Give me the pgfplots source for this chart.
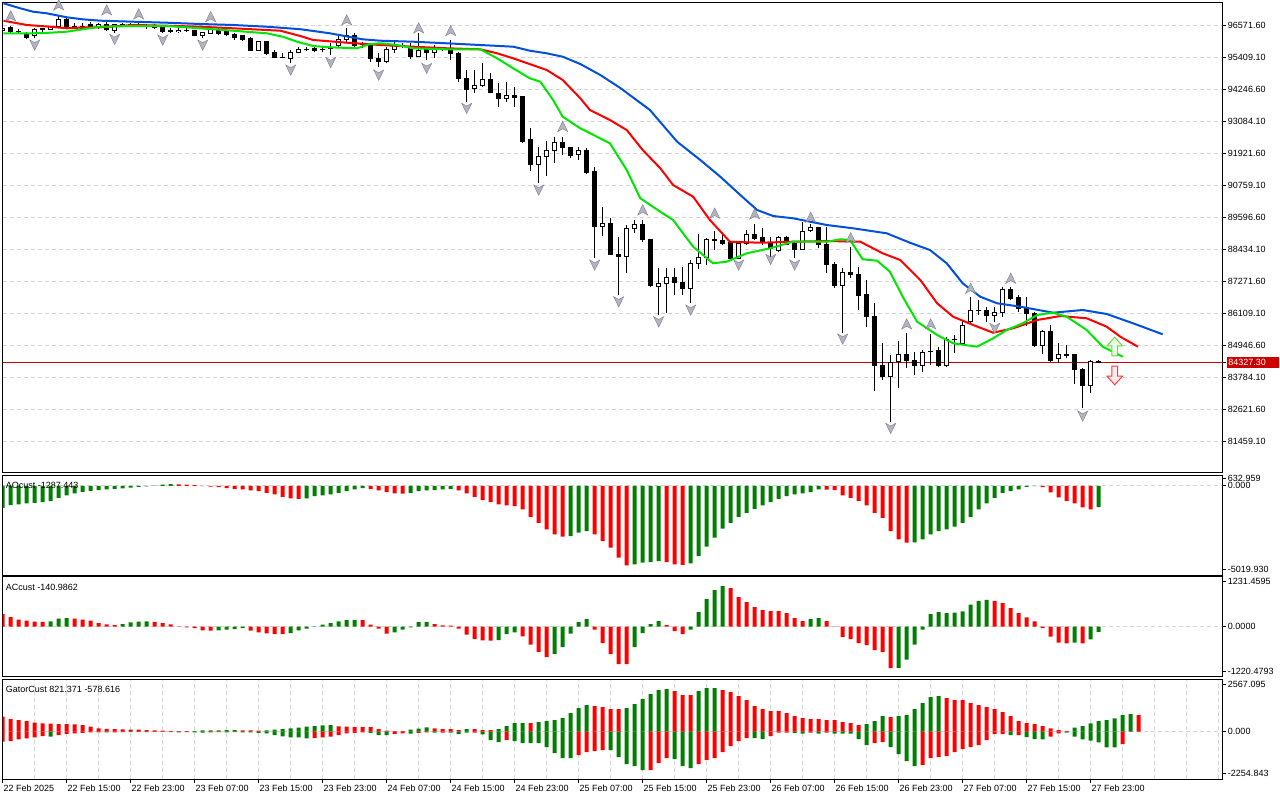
\documentclass[border=0pt]{standalone}
\usepackage{pgfplots}
\pgfplotsset{compat=1.18}
\usepackage{pgfplotstable}
\usepackage{fontspec}
\setmainfont{Liberation Sans}
\definecolor{mtgreen}{RGB}{0,128,0}
\definecolor{mtred}{RGB}{255,0,0}
\definecolor{jaw}{RGB}{0,80,220}
\definecolor{teeth}{RGB}{255,0,0}
\definecolor{lips}{RGB}{0,230,0}
\definecolor{gridc}{RGB}{212,212,212}
\definecolor{pline}{RGB}{204,0,0}
\definecolor{fracfill}{RGB}{178,180,192}
\definecolor{fracdraw}{RGB}{125,125,140}
\newcommand\mtf{\fontsize{6.75pt}{8pt}\selectfont}
\pgfdeclareplotmark{fup}{%
\pgfpathmoveto{\pgfqpoint{0pt}{4pt}}\pgfpathlineto{\pgfqpoint{3.8pt}{-3.8pt}}%
\pgfpathlineto{\pgfqpoint{0pt}{-1.7pt}}\pgfpathlineto{\pgfqpoint{-3.8pt}{-3.8pt}}%
\pgfpathclose\pgfusepathqfillstroke}
\pgfdeclareplotmark{fdown}{%
\pgfpathmoveto{\pgfqpoint{0pt}{-4pt}}\pgfpathlineto{\pgfqpoint{3.8pt}{3.8pt}}%
\pgfpathlineto{\pgfqpoint{0pt}{1.7pt}}\pgfpathlineto{\pgfqpoint{-3.8pt}{3.8pt}}%
\pgfpathclose\pgfusepathqfillstroke}
\pgfdeclareplotmark{sigup}{%
\pgfpathmoveto{\pgfqpoint{0pt}{7pt}}\pgfpathlineto{\pgfqpoint{5.8pt}{0.5pt}}%
\pgfpathlineto{\pgfqpoint{2.2pt}{0.5pt}}\pgfpathlineto{\pgfqpoint{2.2pt}{-7pt}}%
\pgfpathlineto{\pgfqpoint{-2.2pt}{-7pt}}\pgfpathlineto{\pgfqpoint{-2.2pt}{0.5pt}}%
\pgfpathlineto{\pgfqpoint{-5.8pt}{0.5pt}}\pgfpathclose\pgfusepathqfillstroke}
\pgfdeclareplotmark{sigdown}{%
\pgfpathmoveto{\pgfqpoint{0pt}{-7pt}}\pgfpathlineto{\pgfqpoint{5.8pt}{-0.5pt}}%
\pgfpathlineto{\pgfqpoint{2.2pt}{-0.5pt}}\pgfpathlineto{\pgfqpoint{2.2pt}{7pt}}%
\pgfpathlineto{\pgfqpoint{-2.2pt}{7pt}}\pgfpathlineto{\pgfqpoint{-2.2pt}{-0.5pt}}%
\pgfpathlineto{\pgfqpoint{-5.8pt}{-0.5pt}}\pgfpathclose\pgfusepathqfillstroke}
\pgfplotsset{mt/.style={scale only axis, width=915pt, xmin=-8, xmax=144.5,
 axis line style={line width=0.75pt}, scaled y ticks=false, scaled x ticks=false,
 minor xtick={-8,-4,...,144}, xminorgrids=true, ymajorgrids=true,
 minor grid style={gridc, dash pattern=on 3pt off 2.25pt, line width=0.75pt},
 major grid style={gridc, dash pattern=on 3pt off 2.25pt, line width=0.75pt},
 ytick pos=right, yticklabel pos=right, xtick pos=bottom, tick align=outside,
 major tick length=2.5pt, minor tick length=0pt, tick style={black, line width=0.75pt},
 yticklabel style={font=\mtf, anchor=west, inner sep=0pt, xshift=1.25pt},
 xticklabel style={font=\mtf, anchor=north west, inner sep=0pt, xshift=0.5pt, yshift=-1.5pt},
 clip=true},
 hbar/.style={ybar, bar width=3pt, bar shift=0pt, draw=none},
 eb/.style={draw=none, mark=none, forget plot, error bars/error mark=none}}
% candles: index, open, high, low, close (H1 bars)
\pgfplotstableread{
i o h l c
-8 96390 96463 96329 96427
-7 96463 96535 96271 96329
-6 96329 96416 96271 96354
-5 96271 96318 96064 96126
-4 96173 96452 96089 96416
-3 96416 96474 96329 96427
-2 96416 96520 96405 96510
-1 96510 96934 96452 96778
0 96778 96815 96452 96488
1 96488 96633 96416 96510
2 96535 96633 96390 96452
3 96572 96691 96452 96510
4 96510 96655 96416 96608
5 96608 96753 96365 96416
6 96390 96608 96282 96572
7 96572 96633 96488 96575
8 96597 96633 96510 96600
9 96597 96644 96510 96608
10 96535 96608 96416 96532
11 96510 96608 96416 96507
12 96488 96510 96271 96329
13 96365 96452 96292 96362
14 96365 96452 96292 96368
15 96390 96452 96329 96387
16 96365 96390 96160 96176
17 96173 96300 96100 96292
18 96271 96535 96234 96452
19 96416 96488 96209 96271
20 96329 96390 96173 96234
21 96245 96271 96028 96126
22 96173 96209 96002 96053
23 96089 96126 95640 95665
24 95665 96002 95640 95966
25 95966 96002 95484 95520
26 95582 95665 95364 95400
27 95400 95545 95364 95397
28 95364 95665 95183 95582
29 95567 95785 95545 95690
30 95690 95785 95640 95687
31 95727 95810 95582 95665
32 95690 95785 95582 95693
33 95727 95908 95484 95724
34 95846 96209 95748 96028
35 96028 96452 95955 96173
36 96209 96271 95785 95846
37 95883 95966 95727 95857
38 95846 95908 95241 95364
39 95364 95545 95059 95241
40 95241 95785 95183 95690
41 95690 96028 95545 95846
42 95846 95930 95727 95810
43 95785 95930 95328 95422
44 95447 96271 95422 95665
45 95690 95785 95302 95567
46 95567 95846 95364 95727
47 95690 95785 95640 95693
48 95690 96028 95302 95545
49 95545 95603 94515 94639
50 94639 94940 93790 94240
51 94276 94940 94116 94395
52 94395 95204 94334 94602
53 94602 94820 94094 94116
54 94094 94479 93608 93899
55 93899 94515 93790 93997
56 93997 94312 93587 93949
57 93971 93997 92303 92339
58 92401 92825 91287 91519
59 91519 92158 90852 91820
60 91795 92375 91095 92002
61 92002 92499 91556 92303
62 92317 92520 91857 92136
63 92136 92158 91737 91831
64 91857 92136 91675 92038
65 92038 92100 91167 91215
66 91251 91410 88110 89256
67 89281 89960 88919 89379
68 89379 89561 88220 88232
69 88266 88893 86779 88193
70 88193 89318 87566 89198
71 89198 89499 89017 89343
72 89343 89499 88712 88799
73 88799 88810 87080 87116
74 87105 87747 86053 87203
75 87203 87747 86115 87421
76 87421 87747 86779 87225
77 87239 87805 86779 87022
78 87022 88048 86478 87929
79 87929 88991 87711 88132
80 88132 88835 87867 88774
81 88774 89111 88411 88770
82 88770 89075 88592 88629
83 88676 88712 88110 88115
84 88115 88712 88085 88654
85 88654 89136 88592 88980
86 88980 89354 88774 88835
87 88872 89198 88592 88676
88 88676 88893 87903 88473
89 88410 88919 88349 88872
90 88857 88919 88592 88595
91 88629 88712 88110 88436
92 88436 89437 88410 89075
93 89111 89354 89075 89234
94 89234 89256 88473 88618
95 88618 89256 87566 87892
96 87892 87987 87022 87141
97 87141 87747 85390 87613
98 87613 88531 87384 87540
99 87540 87805 86235 86779
100 86804 87323 85629 85992
101 86017 86478 83308 84215
102 84215 85027 83696 83816
103 83816 84603 82183 84338
104 84360 85110 83417 84603
105 84603 85390 84120 84396
106 84421 84722 83877 84215
107 84215 84784 83997 84700
108 84745 85353 84240 84737
109 84748 84904 84156 84240
110 84215 85266 84178 85172
111 85172 85328 84664 85168
112 85027 85872 85000 85665
113 85810 86717 85691 86235
114 86235 86597 86053 86232
115 86235 86355 85810 86053
116 86053 86355 85810 86151
117 86151 87058 85970 86996
118 86996 87058 86597 86659
119 86681 86779 86173 86296
120 86296 86717 85654 86115
121 86115 86173 84904 84940
122 84940 85509 84639 85473
123 85473 85691 84360 84421
124 84483 85049 84301 84603
125 84603 84965 84483 84600
126 84603 84639 83551 84084
127 84084 84120 82669 83489
128 83489 84421 83213 84385
129 84385 84421 84320 84327.3
}\candles
\pgfplotstableread{
i v g
-8 -1320 1
-7 -1160 1
-6 -1120 1
-5 -1060 1
-4 -1020 1
-3 -980 1
-2 -920 1
-1 -720 1
0 -580 1
1 -460 1
2 -360 1
3 -300 1
4 -260 1
5 -220 1
6 -180 1
7 -150 1
8 -110 1
9 -60 1
10 -30 1
11 20 1
12 80 1
13 100 1
14 95 0
15 80 0
16 40 0
17 -10 0
18 -40 0
19 -80 0
20 -140 0
21 -180 0
22 -220 0
23 -280 0
24 -320 0
25 -420 0
26 -520 0
27 -660 0
28 -760 0
29 -780 0
30 -760 1
31 -620 1
32 -580 1
33 -520 1
34 -420 1
35 -320 1
36 -220 1
37 -140 1
38 -180 0
39 -280 0
40 -380 0
41 -460 0
42 -470 0
43 -420 1
44 -320 1
45 -280 1
46 -260 1
47 -220 1
48 -180 1
49 -280 0
50 -460 0
51 -660 0
52 -860 0
53 -980 0
54 -1120 0
55 -1180 0
56 -1220 0
57 -1420 0
58 -1860 0
59 -2220 0
60 -2620 0
61 -2920 0
62 -3060 0
63 -3020 1
64 -2820 1
65 -2720 1
66 -2920 0
67 -3320 0
68 -3720 0
69 -4320 0
70 -4780 0
71 -4720 1
72 -4620 1
73 -4580 1
74 -4520 1
75 -4580 0
76 -4720 0
77 -4760 0
78 -4660 1
79 -4220 1
80 -3660 1
81 -3120 1
82 -2580 1
83 -2220 1
84 -1860 1
85 -1620 1
86 -1380 1
87 -1180 1
88 -980 1
89 -780 1
90 -620 1
91 -520 1
92 -460 1
93 -380 1
94 -220 1
95 -230 0
96 -260 0
97 -580 0
98 -720 0
99 -920 0
100 -1180 0
101 -1620 0
102 -1920 0
103 -2720 0
104 -3220 0
105 -3420 0
106 -3400 1
107 -3220 1
108 -2920 1
109 -2720 1
110 -2620 1
111 -2460 1
112 -2220 1
113 -1860 1
114 -1420 1
115 -1060 1
116 -720 1
117 -420 1
118 -320 1
119 -220 1
120 -60 1
121 -20 1
122 -80 0
123 -400 0
124 -700 0
125 -900 0
126 -1060 0
127 -1300 0
128 -1420 0
129 -1287.443 1
}\aotab
\pgfplotstableread{
i v g
-8 343 0
-7 262 0
-6 190 0
-5 163 0
-4 135 0
-3 131 0
-2 144 1
-1 217 1
0 235 1
1 217 0
2 190 0
3 163 0
4 99 0
5 63 0
6 45 0
7 72 1
8 117 1
9 135 1
10 144 1
11 131 0
12 99 0
13 63 0
14 9 0
15 -18 0
16 -36 0
17 -99 0
18 -108 0
19 -99 1
20 -81 1
21 -63 1
22 -36 1
23 -108 0
24 -154 0
25 -181 0
26 -199 0
27 -203 0
28 -172 1
29 -99 1
30 -54 1
31 9 1
32 54 1
33 99 1
34 144 1
35 181 1
36 185 1
37 181 0
38 54 0
39 -54 0
40 -190 0
41 -154 1
42 -81 1
43 -18 1
44 126 1
45 131 1
46 72 0
47 36 0
48 27 0
49 -54 0
50 -217 0
51 -334 0
52 -370 0
53 -379 0
54 -361 1
55 -199 1
56 -154 1
57 -262 0
58 -488 0
59 -686 0
60 -822 0
61 -740 1
62 -551 1
63 -190 1
64 127 1
65 208 1
66 -81 0
67 -443 0
68 -741 0
69 -1012 0
70 -1013 0
71 -551 1
72 -172 1
73 72 1
74 154 1
75 45 0
76 -118 0
77 -199 0
78 -81 1
79 398 1
80 750 1
81 994 1
82 1103 1
83 1049 0
84 805 0
85 669 0
86 533 0
87 452 0
88 425 0
89 424 0
90 371 0
91 235 0
92 154 0
93 208 1
94 235 1
95 154 0
96 9 0
97 -280 0
98 -334 0
99 -443 0
100 -497 0
101 -633 0
102 -687 0
103 -1121 0
104 -1120 1
105 -894 1
106 -488 1
107 -81 1
108 343 1
109 397 1
110 370 1
111 380 1
112 415 1
113 596 1
114 704 1
115 731 1
116 704 0
117 641 0
118 506 0
119 370 0
120 253 0
121 144 0
122 -36 0
123 -271 0
124 -434 0
125 -450 0
126 -434 1
127 -450 0
128 -341 1
129 -140.9862 1
}\actab
\pgfplotstableread{
i up ug lo lg
-8 813 0 -542 0
-7 687 0 -506 0
-6 632 0 -416 0
-5 578 0 -361 0
-4 488 0 -307 0
-3 452 0 -235 0
-2 434 0 -271 1
-1 416 0 -181 0
0 410 0 -120 0
1 398 0 -90 0
2 361 0 -60 0
3 271 0 -40 0
4 181 0 -30 0
5 150 0 -40 1
6 145 0 -30 0
7 126 0 -20 0
8 120 0 -25 1
9 108 0 -15 0
10 90 0 -20 1
11 72 0 -15 0
12 54 0 -10 0
13 50 0 -20 1
14 36 0 -30 1
15 27 0 -20 0
16 36 1 -30 1
17 72 1 -45 1
18 75 1 -30 0
19 78 1 -20 0
20 80 1 -30 1
21 90 1 -20 0
22 72 0 -30 1
23 70 0 -40 1
24 54 0 -60 1
25 72 1 -90 1
26 108 1 -180 1
27 145 1 -250 1
28 181 1 -300 1
29 217 1 -310 1
30 271 1 -360 1
31 307 1 -350 0
32 343 1 -300 0
33 361 1 -270 0
34 289 0 -180 0
35 271 0 -90 0
36 253 0 -60 0
37 250 0 -40 0
38 245 0 -60 1
39 145 0 -180 1
40 54 0 -185 1
41 36 0 -120 0
42 30 0 -90 0
43 108 1 -100 1
44 163 1 -60 0
45 235 1 -30 0
46 181 0 -50 1
47 145 0 -54 0
48 145 0 -54 1
49 90 0 -126 1
50 145 1 -54 1
51 145 0 -54 0
52 90 0 -145 1
53 90 0 -452 1
54 145 1 -560 1
55 307 1 -452 0
56 470 1 -506 1
57 470 1 -614 1
58 470 0 -614 1
59 524 1 -614 1
60 578 1 -831 1
61 632 1 -1156 1
62 741 1 -1428 1
63 1012 1 -1428 1
64 1283 1 -1265 0
65 1446 1 -1102 0
66 1391 0 -1048 0
67 1337 0 -994 0
68 1229 0 -994 1
69 1229 0 -1373 1
70 1283 1 -1753 1
71 1500 1 -1861 1
72 1771 1 -2078 1
73 2042 1 -2078 0
74 2259 1 -1699 0
75 2313 1 -1428 0
76 2205 0 -1482 1
77 1988 0 -1861 1
78 1988 0 -1970 1
79 2205 1 -1753 0
80 2367 1 -1536 0
81 2367 1 -1428 0
82 2259 0 -1102 0
83 2150 0 -777 0
84 1934 0 -506 0
85 1717 0 -343 0
86 1391 0 -343 1
87 1229 0 -398 1
88 1120 0 -235 0
89 1120 0 -54 0
90 1012 0 -54 0
91 849 0 -72 1
92 741 0 -108 1
93 687 0 -54 0
94 687 0 -108 1
95 632 0 -54 0
96 632 0 -108 1
97 524 0 -108 1
98 470 0 -108 1
99 361 0 -398 1
100 416 1 -723 1
101 578 1 -614 0
102 849 1 -560 0
103 795 0 -831 1
104 849 1 -1211 1
105 904 1 -1590 1
106 1229 1 -1861 1
107 1554 1 -1807 0
108 1879 1 -1428 0
109 1934 1 -1373 0
110 1825 0 -1319 0
111 1717 0 -1102 0
112 1717 0 -940 0
113 1554 0 -831 0
114 1446 0 -723 0
115 1337 0 -452 0
116 1229 0 -126 0
117 1066 0 -126 0
118 849 0 -181 1
119 578 0 -181 0
120 470 0 -289 1
121 416 0 -398 1
122 300 0 -420 1
123 184 0 -271 0
124 92 0 -90 0
125 50 0 -50 1
126 217 1 -271 1
127 309 1 -412 1
128 455 1 -488 1
129 580 1 -578.616 1
130 634 1 -846 1
131 726 1 -850 1
132 905 1 -667 0
133 959 1 0 0
134 905 0 0 0
}\gatab
\begin{document}
\begin{tikzpicture}
\path[use as bounding box] (0,0) rectangle (960pt,-600pt);
% ---------------- main price chart
\begin{axis}[mt, at={(2.025pt,-2.025pt)}, anchor=north west, height=352.5pt,
 ymin=80333.6, ymax=97380.5, xtick=\empty,
 ytick={81459.1,82621.6,83784.1,84946.6,86109.1,87271.6,88434.1,89596.6,90759.1,91921.6,93084.1,94246.6,95409.1,96571.6},
 yticklabels={81459.10,82621.60,83784.10,84946.60,86109.10,87271.60,88434.10,89596.60,90759.10,91921.60,93084.10,94246.60,95409.10,96571.60},
 extra y ticks={84327.3}, extra y tick labels={84327.30},
 extra y tick style={major grid style={pline, solid, line width=0.75pt},
   yticklabel style={fill=pline, text=white, inner xsep=1.2pt, inner ysep=0pt, minimum height=7.8pt, text width=37pt, xshift=-1pt}}]
% wicks
\addplot[eb, error bars/y dir=plus, error bars/y explicit, error bars/error bar style={draw=black, line width=0.75pt}]
  table[x=i, y=l, y error plus expr={\thisrow{h}-\thisrow{l}}] {\candles};
% bodies (black)
\addplot[eb, error bars/y dir=plus, error bars/y explicit, error bars/error bar style={draw=black, line width=4.1pt}]
  table[x=i, y expr={min(\thisrow{o},\thisrow{c})}, y error plus expr={abs(\thisrow{c}-\thisrow{o})}] {\candles};
% hollow inside of rising candles
\addplot[eb, restrict expr to domain={\thisrow{c}>\thisrow{o}}{1:1}, error bars/y dir=plus, error bars/y explicit, error bars/error bar style={draw=white, line width=2.6pt}]
  table[x=i, y expr={min(\thisrow{o},\thisrow{c})}, y error plus expr={abs(\thisrow{c}-\thisrow{o})}] {\candles};
% top and bottom edges of bodies
\addplot[eb, error bars/x dir=both, error bars/x fixed=0.34, error bars/error bar style={draw=black, line width=0.75pt}]
  table[x=i, y=o] {\candles};
\addplot[eb, error bars/x dir=both, error bars/x fixed=0.34, error bars/error bar style={draw=black, line width=0.75pt}]
  table[x=i, y=c] {\candles};
% Alligator jaw / teeth / lips
\addplot[jaw, line width=1.5pt] coordinates {(-7.9,97359) (-5.8,97177) (-4.2,97054) (-2.5,96996) (0,96851) (2,96778) (4.2,96728) (8.3,96691) (12.5,96655) (16.7,96608) (20.8,96572) (25,96510) (29.2,96419) (32.9,96271) (37,96053) (39.2,96002) (43.3,95966) (47.5,95908) (51.7,95846) (55.8,95785) (57.9,95640) (60,95545) (62,95422) (64.2,95157) (66.7,94758) (69.2,94287) (72.9,93489) (76.3,92339) (79.2,91675) (81.7,91069) (84.2,90406) (86.3,89862) (88.3,89644) (90.8,89561) (95,89318) (98.3,89198) (102.5,89017) (105.4,88676) (107.9,88411) (110,87929) (112,87203) (114.2,86717) (116.3,86478) (119.2,86355) (123.3,86137) (127,86235) (130,86090) (133.3,85752) (137,85353)};
\addplot[teeth, line width=1.5pt] coordinates {(-7.9,96728) (-5,96572) (-2.1,96510) (0,96452) (2.5,96488) (4.2,96488) (8.3,96572) (12.5,96546) (16.7,96510) (20.8,96452) (25,96390) (26.7,96365) (29.2,96173) (30.8,96028) (35,95930) (39.2,95846) (43.3,95785) (47.5,95727) (51.7,95690) (53.8,95545) (55.8,95364) (60,94940) (62,94577) (64.2,93913) (65.4,93489) (67.9,93126) (70,92763) (72,92038) (74.2,91374) (75.8,90768) (78.3,90344) (80.4,89499) (82.9,88712) (86.7,88675) (90.8,88712) (95,88737) (99.2,88712) (102,88291) (104.2,88048) (106.7,87323) (108.8,86478) (110.8,85992) (113.3,85691) (115.8,85412) (118.3,85571) (121.3,85872) (124.2,86017) (127.5,85934) (130,85629) (131.7,85266) (133.9,84904)};
\addplot[lips, line width=1.5pt] coordinates {(-7.9,96271) (-4.2,96271) (-2.1,96292) (0,96329) (2,96416) (4.2,96510) (8.3,96535) (12.5,96535) (16.7,96452) (20.8,96365) (25,96271) (27,96147) (28.8,95966) (30.8,95810) (32.9,95763) (36.3,95727) (37.9,95882) (39.2,95908) (41.3,95846) (43.3,95727) (47.5,95690) (51.7,95690) (53.8,95364) (55.8,95001) (57.9,94639) (59.2,94515) (60.8,93851) (62,93246) (64.2,92825) (67.9,92281) (70,91312) (71.7,90286) (74.2,89800) (75.8,89499) (78.3,88531) (80.8,87929) (82.5,87987) (85,88291) (87.9,88472) (90.8,88712) (95,88712) (96.7,88799) (97.9,88774) (99.5,88073) (101.3,88023) (102.9,87624) (104.5,86717) (106.3,85810) (108.8,85328) (110.8,85027) (113.8,84904) (115.8,85208) (117.5,85509) (119.5,85752) (121.3,86053) (123.3,86137) (125,85992) (127.5,85509) (129.5,84904) (132,84541)};
% fractals
\addplot[only marks, mark=fup, mark options={fill=fracfill, draw=fracdraw, line width=0.3pt}] coordinates {(-7,96898) (-1,97297) (5,97116) (9,96971) (18,96873) (35,96753) (44,96463) (48,96365) (62,92890) (72,89862) (81,89742) (86,89717) (93,89597) (98,88857) (105,85727) (108,85727) (113,87022) (118,87384)};
\addplot[only marks, mark=fdown, mark options={fill=fracfill, draw=fracdraw, line width=0.3pt}] coordinates {(-4,95846) (6,96053) (12,96028) (17,95846) (28,94940) (33,95211) (39,94758) (45,95001) (50,93550) (59,90587) (66,87867) (69,86536) (74,85810) (78,86235) (84,87867) (88,88073) (91,87867) (97,85183) (103,81944) (116,85571) (127,82390)};
% signal arrows
\addplot[only marks, mark=sigup, mark options={draw={rgb,255:red,110;green,215;blue,80}, fill={rgb,255:red,235;green,255;blue,225}, line width=0.75pt}] coordinates {(131,84911)};
\addplot[only marks, mark=sigdown, mark options={draw={rgb,255:red,255;green,60;blue,60}, fill={rgb,255:red,255;green,235;blue,235}, line width=0.75pt}] coordinates {(131,83859)};
\end{axis}
% ---------------- AO
\begin{axis}[mt, name=ao, at={(2.025pt,-356.475pt)}, anchor=north west, height=74.775pt,
 ymin=-5362.5, ymax=632.959, xtick=\empty,
 ytick={0}, yticklabels={0.000},
 extra y ticks={-5019.93,420}, extra y tick labels={-5019.930,632.959}, extra y tick style={grid=none}]
\addplot[hbar, fill=mtgreen, restrict expr to domain={\thisrow{g}}{1:1}] table[x=i,y=v] {\aotab};
\addplot[hbar, fill=mtred, restrict expr to domain={\thisrow{g}}{0:0}] table[x=i,y=v] {\aotab};
\end{axis}
\node[anchor=west, font=\mtf, inner sep=0pt, xshift=2.25pt, yshift=-7.5pt] at (ao.north west) {AOcust -1287.443};
% ---------------- AC
\begin{axis}[mt, name=ac, at={(2.025pt,-432.525pt)}, anchor=north west, height=75pt,
 ymin=-1356.5, ymax=1356.5, xtick=\empty,
 ytick={0}, yticklabels={0.0000},
 extra y ticks={-1220.4793,1231.4595}, extra y tick labels={-1220.4793,1231.4595}, extra y tick style={grid=none}]
\addplot[hbar, fill=mtgreen, restrict expr to domain={\thisrow{g}}{1:1}] table[x=i,y=v] {\actab};
\addplot[hbar, fill=mtred, restrict expr to domain={\thisrow{g}}{0:0}] table[x=i,y=v] {\actab};
\end{axis}
\node[anchor=west, font=\mtf, inner sep=0pt, xshift=2.25pt, yshift=-8pt] at (ac.north west) {ACcust -140.9862};
% ---------------- Gator
\begin{axis}[mt, name=ga, at={(2.025pt,-509.475pt)}, anchor=north west, height=75pt,
 ymin=-2580, ymax=2840,
 xtick={-8,0,8,...,128},
 xticklabels={22 Feb 2025,22 Feb 15:00,22 Feb 23:00,23 Feb 07:00,23 Feb 15:00,23 Feb 23:00,24 Feb 07:00,24 Feb 15:00,24 Feb 23:00,25 Feb 07:00,25 Feb 15:00,25 Feb 23:00,26 Feb 07:00,26 Feb 15:00,26 Feb 23:00,27 Feb 07:00,27 Feb 15:00,27 Feb 23:00},
 ytick={0}, yticklabels={0.000},
 extra y ticks={-2254.843,2567.095}, extra y tick labels={-2254.843,2567.095}, extra y tick style={grid=none}]
\addplot[hbar, fill=mtgreen, restrict expr to domain={\thisrow{ug}}{1:1}] table[x=i,y=up] {\gatab};
\addplot[hbar, fill=mtred, restrict expr to domain={\thisrow{ug}}{0:0}] table[x=i,y=up] {\gatab};
\addplot[hbar, fill=mtgreen, restrict expr to domain={\thisrow{lg}}{1:1}] table[x=i,y=lo] {\gatab};
\addplot[hbar, fill=mtred, restrict expr to domain={\thisrow{lg}}{0:0}] table[x=i,y=lo] {\gatab};
\end{axis}
\node[anchor=west, font=\mtf, inner sep=0pt, xshift=2.25pt, yshift=-7.5pt] at (ga.north west) {GatorCust 821.371 -578.616};
\end{tikzpicture}
\end{document}
